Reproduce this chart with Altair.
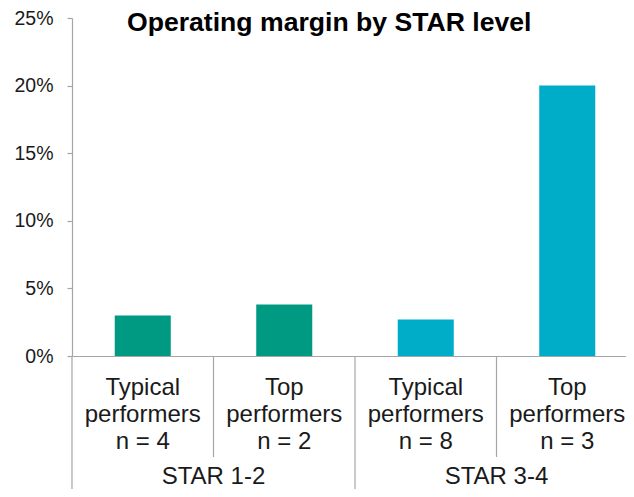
import altair as alt
import pandas as pd

# ---- data ----
keys = ["t12", "p12", "t34", "p34"]
labels = ["Typical\nperformers\nn = 4", "Top\nperformers\nn = 2",
          "Typical\nperformers\nn = 8", "Top\nperformers\nn = 3"]
groups = ["STAR 1-2", "STAR 1-2", "STAR 3-4", "STAR 3-4"]
values = [0.030, 0.038, 0.027, 0.200]
group_names = ["STAR 1-2", "STAR 3-4"]
group_colors = ["#009A82", "#00ADC8"]
y_ticks = [0, 0.05, 0.10, 0.15, 0.20, 0.25]

# separators: inner (between bars of a group) are short, outer (between groups) long
sep_keys_short = ["p12", "p34"]
sep_keys_long = ["t12", "t34"]

df = pd.DataFrame({"key": keys, "label": labels, "group": groups, "value": values})
first_df = df.drop_duplicates("group")
short_df = pd.DataFrame({"key": sep_keys_short})
long_df = pd.DataFrame({"key": sep_keys_long})

FONT = "Liberation Sans"
GRAY = "#A6A6A6"
TXT = "#1a1a1a"
H = 338

xscale = alt.Scale(domain=keys, paddingInner=0, paddingOuter=0, range=[0, 566])

bars = alt.Chart(df).mark_bar(width=alt.RelativeBandSize(0.396)).encode(
    x=alt.X("key:N", scale=xscale, sort=keys,
            axis=alt.Axis(labels=False, ticks=False, domainColor=GRAY,
                          domainWidth=1.2, title=None)),
    y=alt.Y("value:Q", scale=alt.Scale(domain=[0, 0.25], nice=False),
            axis=alt.Axis(values=y_ticks, format=".0%", title=None, grid=False,
                          labelFont=FONT, labelFontSize=19.5, labelColor=TXT,
                          labelPadding=14, tickSize=5, tickColor=GRAY,
                          domainColor=GRAY, domainWidth=1.2, tickWidth=1.2)),
    color=alt.Color("group:N", scale=alt.Scale(domain=group_names, range=group_colors),
                    legend=None),
)

cat_text = alt.Chart(df).mark_text(
    font=FONT, fontSize=24, color=TXT, lineBreak="\n", lineHeight=27,
    align="center", baseline="alphabetic"
).encode(
    x=alt.X("key:N", scale=xscale, sort=keys),
    y=alt.value(H + 39),
    text="label:N",
)

grp_text = alt.Chart(first_df).mark_text(
    font=FONT, fontSize=24, color=TXT, align="center", baseline="alphabetic"
).encode(
    x=alt.X("key:N", scale=xscale, sort=keys, bandPosition=1),
    y=alt.value(H + 128),
    text="group:N",
)

short_rules = alt.Chart(short_df).mark_rule(color=GRAY, strokeWidth=1.2).encode(
    x=alt.X("key:N", scale=xscale, sort=keys, bandPosition=0),
    y=alt.value(H), y2=alt.value(H + 101),
)

long_rules = alt.Chart(long_df).mark_rule(color=GRAY, strokeWidth=1.2).encode(
    x=alt.X("key:N", scale=xscale, sort=keys, bandPosition=0),
    y=alt.value(H), y2=alt.value(H + 160),
)

chart = alt.layer(bars, short_rules, long_rules, cat_text, grp_text).properties(
    width=554, height=H,
    autosize=alt.AutoSizeParams(type="none"),
    padding={"left": 64, "top": 10, "right": 0, "bottom": 133},
    title=alt.TitleParams("Operating margin by STAR level", anchor="start",
                          frame="group", dx=55, dy=54, baseline="alphabetic",
                          font=FONT, fontSize=26.6, fontWeight="bold", color="#000000"),
).configure_view(stroke=None)

chart.save("out.html", embed_options={"renderer": "svg", "actions": False})
